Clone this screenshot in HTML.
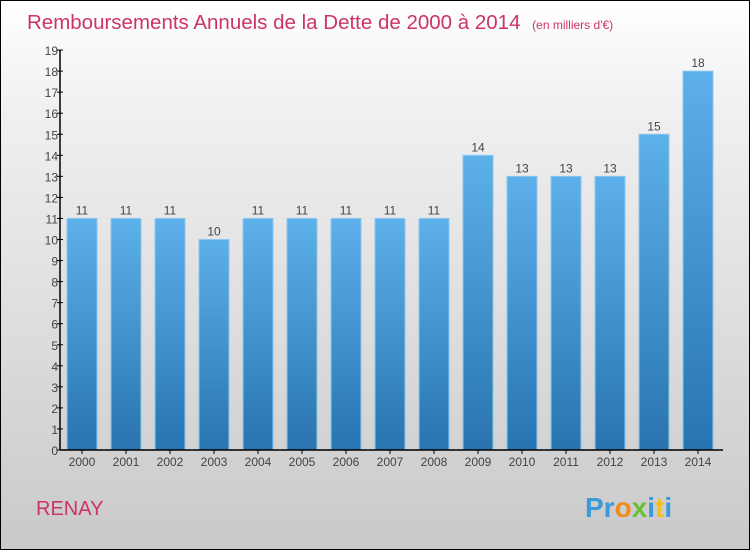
<!DOCTYPE html>
<html><head><meta charset="utf-8"><style>
body{margin:0;width:750px;height:550px;overflow:hidden;font-family:"Liberation Sans",sans-serif}
#wrap{position:relative;width:748px;height:548px;border:1px solid #000;background:linear-gradient(#fff,#f0f0f0 20%,#d8d8d8 70%,#c9c9c9)}
</style></head><body>
<div id="wrap">
<svg width="748" height="548" xmlns="http://www.w3.org/2000/svg">
<defs><linearGradient id="bg" x1="0" y1="0" x2="0" y2="1"><stop offset="0" stop-color="#5db0ea"/><stop offset="1" stop-color="#2874b0"/></linearGradient></defs>
<text x="26" y="28" font-size="20.5" fill="#cc3366">Remboursements Annuels de la Dette de 2000 à 2014 <tspan font-size="12" dx="6">(en milliers d'€)</tspan></text>
<g id="bars"></g>
<g id="axes"></g>
<text x="35" y="514" font-size="20" fill="#cc3366">RENAY</text>
<text x="584" y="516" font-size="28" font-weight="bold"><tspan fill="#3a9ad9">Pr</tspan><tspan fill="#f08a1c">o</tspan><tspan fill="#6cbf3a">x</tspan><tspan fill="#3a9ad9">i</tspan><tspan fill="#f0c020">t</tspan><tspan fill="#3a9ad9">i</tspan></text>
</svg></div>
<script>
const years=["2000","2001","2002","2003","2004","2005","2006","2007","2008","2009","2010","2011","2012","2013","2014"];
const values=[11,11,11,10,11,11,11,11,11,14,13,13,13,15,18];
const ticks=[0,1,2,3,4,5,6,7,8,9,10,11,12,13,14,15,16,17,18,19];
const NS="http://www.w3.org/2000/svg";
const x0=59,y0=449,unit=21.05,step=44,bw=30;
const y=v=>y0-v*unit, xc=i=>x0+22+i*step;
const bars=document.getElementById('bars'),axes=document.getElementById('axes');
function mk(t,a,p){const e=document.createElementNS(NS,t);for(const k in a)e.setAttribute(k,a[k]);p.appendChild(e);return e;}
values.forEach((v,i)=>{
 const r=mk('rect',{x:xc(i)-bw/2,y:y(v),width:bw,height:y0-y(v),fill:'url(#bg)',stroke:'#8cc8f0','stroke-width':1},bars);
 
 
 const t=mk('text',{x:xc(i),y:y(v)-4,'text-anchor':'middle','font-size':12,fill:'#444'},bars);
 t.textContent=v;
 
 
 const l=mk('text',{x:xc(i),y:y0+16,'text-anchor':'middle','font-size':12,fill:'#444'},axes);
 l.textContent=years[i];
 
 
 mk('line',{x1:xc(i),x2:xc(i),y1:y0,y2:y0+4,stroke:'#000'},axes);
});
const ya=mk('line',{x1:x0,x2:x0,y1:y(19),y2:y0,stroke:'#000','stroke-width':1.5},axes);


const xa=mk('line',{x1:x0,x2:722,y1:y0,y2:y0,stroke:'#000','stroke-width':1.5},axes);


ticks.forEach(v=>{
 mk('line',{x1:x0-3,x2:x0+3,y1:y(v),y2:y(v),stroke:'#000'},axes);
 const t=mk('text',{x:x0-2,y:y(v)+5,'text-anchor':'end','font-size':12,fill:'#444'},axes);
 t.textContent=v;
 
 
});
</script>
</body></html>
